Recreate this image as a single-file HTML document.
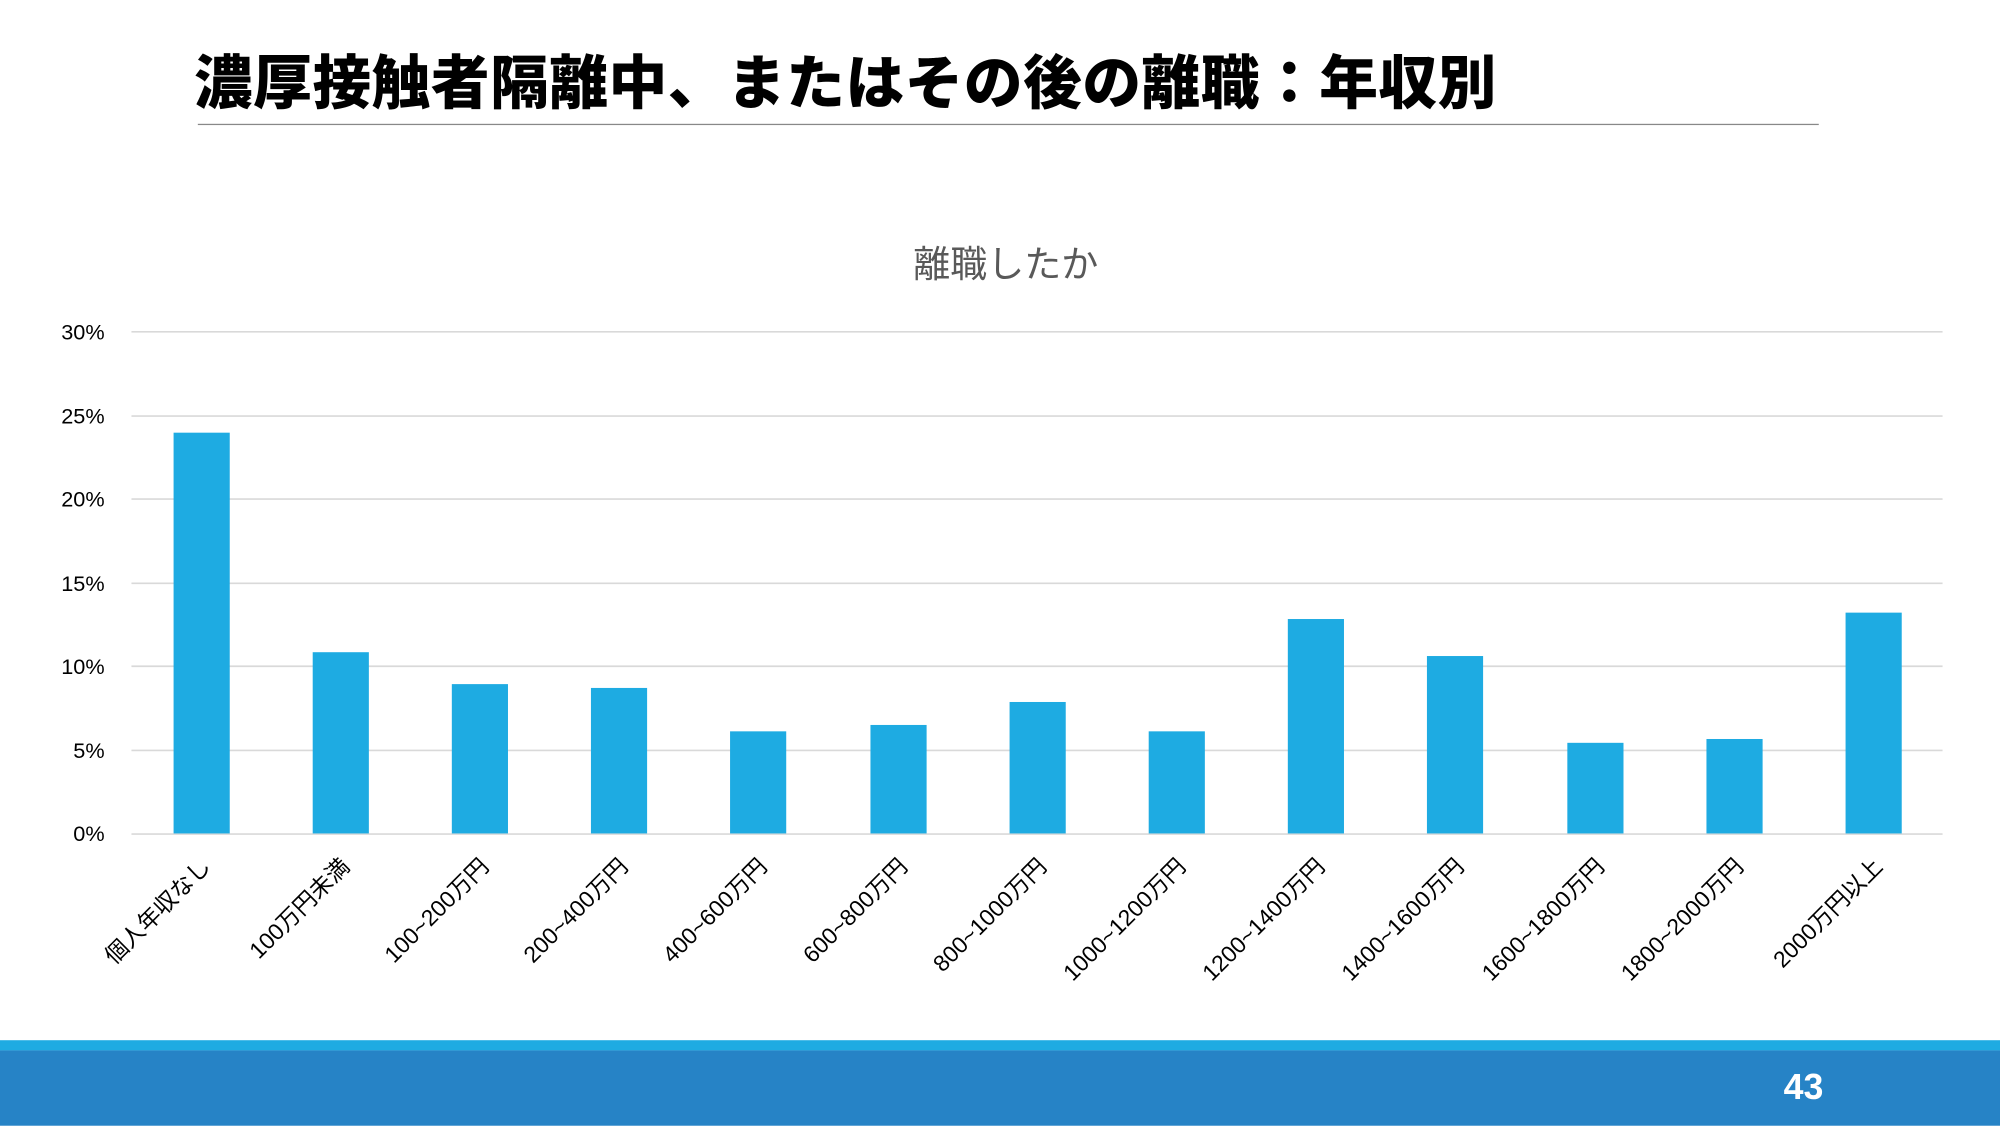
<!DOCTYPE html>
<html><head><meta charset="utf-8"><style>
html,body{margin:0;padding:0;width:2000px;height:1125px;overflow:hidden;background:#fff}
#w{position:absolute;left:0;top:0;width:1567px;height:882px;transform:scale(1.27633);transform-origin:0 0;font-family:"Liberation Sans","Noto Sans CJK JP",sans-serif}
.a{position:absolute}
</style></head><body><div id="w">
<div class="a" style="left:152px;top:29px;font-size:46px;font-weight:900;color:#000;white-space:nowrap;letter-spacing:0.4px">濃厚接触者隔離中、またはその後の離職：年収別</div>
<div class="a" style="left:155px;top:97px;width:1270px;height:1px;background:#888"></div>
<div class="a" style="left:688px;top:184px;width:200px;text-align:center;font-size:29px;color:#595959">離職したか</div>
<svg class="a" style="left:0;top:0" width="1567" height="882" font-family="Liberation Sans, Noto Sans CJK JP, sans-serif">
<g stroke="#d9d9d9" stroke-width="1.3">
<line x1="103" x2="1522" y1="260" y2="260"/><line x1="103" x2="1522" y1="326" y2="326"/><line x1="103" x2="1522" y1="391" y2="391"/><line x1="103" x2="1522" y1="457" y2="457"/><line x1="103" x2="1522" y1="522" y2="522"/><line x1="103" x2="1522" y1="588" y2="588"/><line x1="103" x2="1522" y1="653.5" y2="653.5"/>
</g>
<g font-size="17" fill="#000" text-anchor="end">
<text x="82" y="266">30%</text><text x="82" y="332">25%</text><text x="82" y="397">20%</text><text x="82" y="463">15%</text><text x="82" y="528">10%</text><text x="82" y="594">5%</text><text x="82" y="659">0%</text>
</g>
<g fill="#1EABE2">
<rect x="136" y="339" width="44" height="314"/>
<rect x="245" y="511" width="44" height="142"/>
<rect x="354" y="536" width="44" height="117"/>
<rect x="463" y="539" width="44" height="114"/>
<rect x="572" y="573" width="44" height="80"/>
<rect x="682" y="568" width="44" height="85"/>
<rect x="791" y="550" width="44" height="103"/>
<rect x="900" y="573" width="44" height="80"/>
<rect x="1009" y="485" width="44" height="168"/>
<rect x="1118" y="514" width="44" height="139"/>
<rect x="1228" y="582" width="44" height="71"/>
<rect x="1337" y="579" width="44" height="74"/>
<rect x="1446" y="480" width="44" height="173"/>
</g>
<g font-size="18" fill="#000" text-anchor="end">
<text transform="translate(166,680) rotate(-45)">個人年収なし</text>
<text transform="translate(275,680) rotate(-45)">100万円未満</text>
<text transform="translate(384,680) rotate(-45)">100~200万円</text>
<text transform="translate(493,680) rotate(-45)">200~400万円</text>
<text transform="translate(602,680) rotate(-45)">400~600万円</text>
<text transform="translate(712,680) rotate(-45)">600~800万円</text>
<text transform="translate(821,680) rotate(-45)">800~1000万円</text>
<text transform="translate(930,680) rotate(-45)">1000~1200万円</text>
<text transform="translate(1039,680) rotate(-45)">1200~1400万円</text>
<text transform="translate(1148,680) rotate(-45)">1400~1600万円</text>
<text transform="translate(1258,680) rotate(-45)">1600~1800万円</text>
<text transform="translate(1367,680) rotate(-45)">1800~2000万円</text>
<text transform="translate(1476,680) rotate(-45)">2000万円以上</text>
</g>
</svg>
<div class="a" style="left:0;top:815px;width:1567px;height:8px;background:#1EABE2"></div>
<div class="a" style="left:0;top:823px;width:1567px;height:59px;background:#2683C6"></div>
<div class="a" style="left:1390px;top:836px;width:46px;text-align:center;font-size:28px;font-weight:bold;color:#fff">43</div>
</div></body></html>
